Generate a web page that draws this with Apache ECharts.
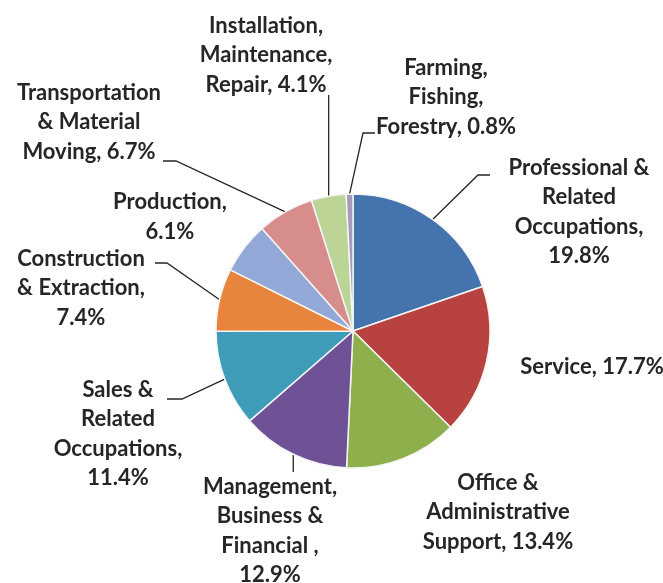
<!DOCTYPE html>
<html>
<head>
<meta charset="utf-8">
<script src="https://cdn.jsdelivr.net/npm/echarts@6/dist/echarts.min.js"></script>
<style>
  html, body { margin: 0; padding: 0; background: #fff; }
  #chart { width: 663px; height: 583px; }
</style>
</head>
<body>
<div id="chart"></div>
<script>
// occupation groups, clockwise from 12 o'clock
const categories = [
  "Professional &\nRelated\nOccupations,",
  "Service,",
  "Office &\nAdministrative\nSupport,",
  "Management,\nBusiness &\nFinancial ,",
  "Sales &\nRelated\nOccupations,",
  "Construction\n& Extraction,",
  "Production,",
  "Transportation\n& Material\nMoving,",
  "Installation,\nMaintenance,\nRepair,",
  "Farming,\nFishing,\nForestry,",
];
const shares = [19.8, 17.7, 13.4, 12.9, 11.4, 7.4, 6.1, 6.7, 4.1, 0.8];
// "\n" puts the percentage on its own line
const valueSep = ["\n", " ", " ", "\n", "\n", "\n", "\n", " ", " ", " "];

const colors = [
  "#4473ae", "#b8423f", "#8db04c", "#6f5195", "#3f9cb8",
  "#e9843c", "#93a8d6", "#d68d8c", "#bcd597", "#a59bbe",
];

// label layout (centre of text block) and leader elbows
const labelX = [579, 592, 498, 270, 118, 81, 170, 89, 266, 446];
const labelY = [212, 367, 512, 531, 434, 288, 217, 122, 55, 97];
const elbow = [
  [[478, 175], [490, 175]],
  null,
  null,
  ["v", 472],
  [[182, 399], [167, 399]],
  [[167, 263], [155, 263]],
  null,
  [[176, 161], [163, 161]],
  ["v", 95],
  [[363, 133], [375, 133]],
];

const chart = echarts.init(document.getElementById("chart"));

const data = shares.map((v, i) => ({
  name: categories[i],
  value: v,
  itemStyle: { color: colors[i] },
  labelLine: { show: elbow[i] !== null },
}));

const option = {
  animation: false,
  series: [
    {
      type: "pie",
      center: [353, 331],
      radius: 137,
      startAngle: 90,
      clockwise: true,
      avoidLabelOverlap: false,
      data: data,
      itemStyle: {
        borderColor: "#f4f4f4",
        borderWidth: 1.5,
      },
      label: {
        show: true,
        position: "outside",
        formatter: (p) => p.name + valueSep[p.dataIndex] + p.value + "%",
        fontFamily: "Lato",
        fontWeight: "bold",
        fontSize: 22,
        lineHeight: 29.5,
        color: "#262626",
        align: "center",
      },
      labelLine: {
        show: true,
        lineStyle: { color: "#262626", width: 1.3 },
        length: 10,
        length2: 10,
      },
      labelLayout: (p) => {
        const i = p.dataIndex;
        const out = {
          x: labelX[i],
          y: labelY[i],
          align: "center",
          verticalAlign: "middle",
        };
        const e = elbow[i];
        if (e && p.labelLinePoints) {
          const start = p.labelLinePoints[0];
          if (e[0] === "v") {
            out.labelLinePoints = [start, [start[0], e[1]], [start[0], e[1]]];
          } else {
            out.labelLinePoints = [start, e[0], e[1]];
          }
        }
        return out;
      },
      emphasis: { disabled: true },
    },
  ],
};

chart.setOption(option);
</script>
</body>
</html>
